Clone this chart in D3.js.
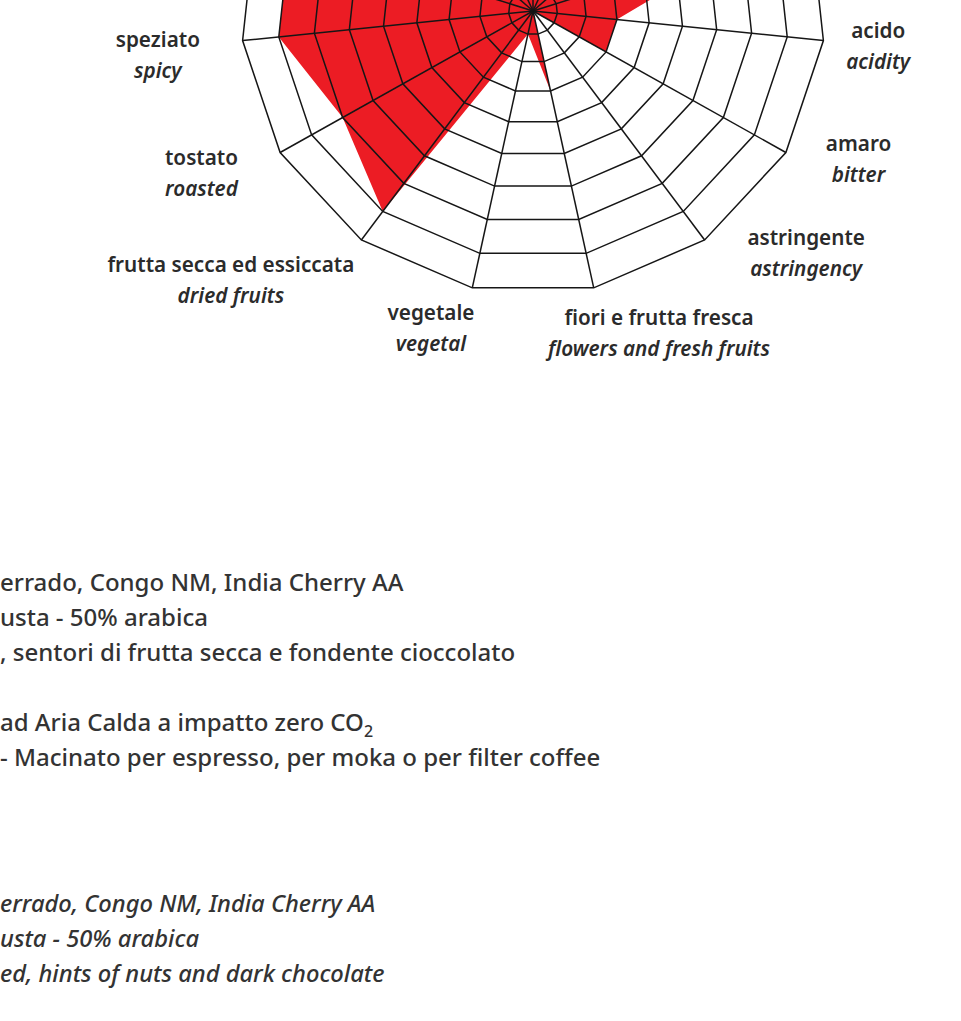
<!DOCTYPE html>
<html>
<head>
<meta charset="utf-8">
<script src="https://cdn.jsdelivr.net/npm/d3@7"></script>
<style>
  html, body { margin: 0; padding: 0; background: #fff; }
  svg { display: block; }
  .ring, .spoke { fill: none; stroke: #161616; stroke-width: 1.5; stroke-linejoin: miter; }
  .profile { fill: #ec1c24; stroke: none; }
  .axis-label { font-family: "Noto Sans", sans-serif; fill: #2b2b2b; text-anchor: middle; }
  .axis-label .it { font-size: 20.7px; font-weight: 600; }
  .axis-label .en { font-size: 20.7px; font-weight: 600; font-style: italic; }
  .notes { font-family: "Noto Sans", sans-serif; fill: #333; font-size: 24px; font-weight: 500; }
  .notes.en { font-style: italic; font-weight: 500; font-size: 23.7px; }
</style>
</head>
<body>
<svg id="chart" width="961" height="1021"></svg>
<script>
// 15 axes, clockwise from the top; the upper ones are cropped out of the picture
const axisIt = ["", "", "", "", "acido", "amaro", "astringente", "fiori e frutta fresca",
    "vegetale", "frutta secca ed essiccata", "tostato", "speziato", "", "", ""];
const axisEn = ["", "", "", "", "acidity", "bitter", "astringency", "flowers and fresh fruits",
    "vegetal", "dried fruits", "roasted", "spicy", "", "", ""];
// intensity per axis, 0-9
const profile = [7, 6, 6, 7, 3, 3, 0, 3, 1, 8, 7, 8, 8, 8, 7];
const levels = [1, 2, 3, 4, 5, 6, 7, 8, 9];

// text block under the chart (cut on the left in the original)
const notesIt = [
    "errado, Congo NM, India Cherry AA",
    "usta - 50% arabica",
    ", sentori di frutta secca e fondente cioccolato",
    "",
    "ad Aria Calda a impatto zero CO_2",
    "- Macinato per espresso, per moka o per filter coffee",
];
const notesEn = [
    "errado, Congo NM, India Cherry AA",
    "usta - 50% arabica",
    "ed, hints of nuts and dark chocolate",
];

const CX = 533, CY = 11, RX = 292, RY = 283;
// label nudges away from the plain radial spot (hand placed in the original)
const labelNudge = [[0, 0], [0, 0], [0, 0], [0, 0], [15, -7], [38, -22], [78, -27], [57, -2],
    [-33, -7], [-107, 0], [-44, -8], [-45, 2], [0, 0], [0, 0], [0, 0]];

const svg = d3.select("#chart");

const n = axisIt.length;
const angle = d3.scaleLinear().domain([0, n]).range([-Math.PI / 2, Math.PI * 1.5]);
// ring spacing widens slightly towards the outside
const radius = d3.scalePow().exponent(1.13).domain([0, d3.max(levels)]).range([0, 1]);

function point(i, v) {
    const a = angle(i), r = radius(v);
    return [CX + RX * r * Math.cos(a), CY + RY * r * Math.sin(a)];
}

const closed = d3.line().curve(d3.curveLinearClosed);

// red profile
svg.append("path")
    .attr("class", "profile")
    .attr("d", closed(profile.map((v, i) => point(i, v))));

// web
svg.append("g").selectAll("path")
    .data(levels)
    .join("path")
    .attr("class", "ring")
    .attr("d", lv => closed(d3.range(n).map(i => point(i, lv))));

svg.append("g").selectAll("line")
    .data(d3.range(n))
    .join("line")
    .attr("class", "spoke")
    .attr("x1", CX)
    .attr("y1", CY)
    .attr("x2", i => point(i, d3.max(levels))[0])
    .attr("y2", i => point(i, d3.max(levels))[1]);

// axis labels
const labels = svg.append("g").selectAll("text")
    .data(d3.range(n).filter(i => axisIt[i]))
    .join("text")
    .attr("class", "axis-label")
    .attr("transform", i => {
        const a = angle(i);
        const x = CX + (RX + 40) * Math.cos(a) + labelNudge[i][0];
        const y = CY + (RY + 40) * Math.sin(a) + labelNudge[i][1];
        return `translate(${x},${y})`;
    });
labels.append("tspan").attr("class", "it").attr("x", 0).attr("y", 0).text(i => axisIt[i]);
labels.append("tspan").attr("class", "en").attr("x", 0).attr("y", 31).text(i => axisEn[i]);

// notes
const lineY = d3.scaleLinear().domain([0, 1]).range([591, 626]);

svg.append("g").selectAll("text")
    .data(notesIt.map((t, i) => ({ t, i })).filter(d => d.t))
    .join("text")
    .attr("class", "notes")
    .attr("x", 0)
    .attr("y", d => lineY(d.i))
    .each(function(d) {
        const parts = d.t.split("_");
        const el = d3.select(this);
        el.append("tspan").text(parts[0]);
        if (parts[1]) {
            el.append("tspan")
                .attr("font-size", 16)
                .attr("dy", 6)
                .text(parts[1]);
        }
    });

const lineYEn = d3.scaleLinear().domain([0, 1]).range([912, 947]);
svg.append("g").selectAll("text")
    .data(notesEn)
    .join("text")
    .attr("class", "notes en")
    .attr("x", 0)
    .attr("y", (d, i) => lineYEn(i))
    .text(d => d);
</script>
</body>
</html>
